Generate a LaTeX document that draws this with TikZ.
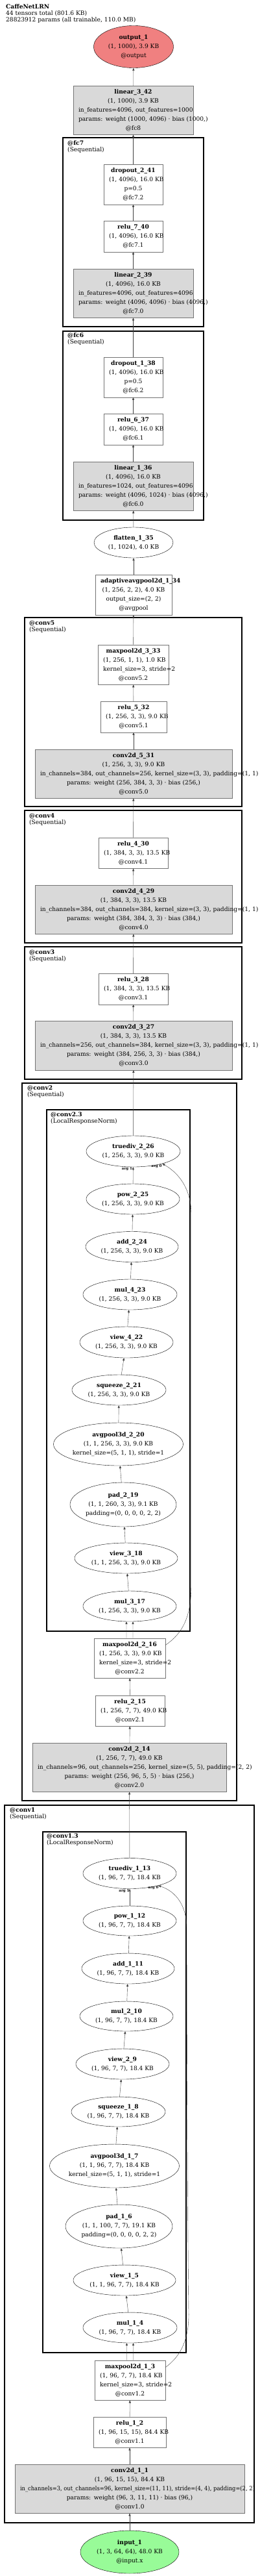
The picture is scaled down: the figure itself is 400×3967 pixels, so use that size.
\documentclass[tikz,border=0pt]{standalone}
\usepackage{fontspec}
\setmainfont{DejaVu Serif}
\usetikzlibrary{shapes.geometric}
\usetikzlibrary{arrows.meta}

\newcommand{\nodefont}{\fontsize{9.1pt}{14pt}\selectfont}
\newcommand{\headfont}{\fontsize{9.1pt}{10.3pt}\selectfont}
\definecolor{outred}{RGB}{240,128,128}
\definecolor{ingreen}{RGB}{152,251,152}

\begin{document}
\begin{tikzpicture}[x=1pt, y=-1pt]
\tikzset{
  wbox/.style={draw=black!55, fill=white, inner xsep=8pt, inner ysep=5.5pt, align=center, font=\nodefont},
  gbox/.style={wbox, fill=black!15},
  opnode/.style={ellipse, draw, inner sep=0pt, align=center, font=\nodefont, minimum width=144pt, minimum height=47pt},
  flow/.style={draw=black!75, -{Triangle[length=4pt, width=3.2pt]}},
  seq/.style={draw, line width=2.7pt},
  lrn/.style={draw, line width=2pt},
  grouptag/.style={anchor=north west, inner sep=0pt, align=left, font=\headfont},
  argtag/.style={inner sep=0pt, font=\fontsize{5.5pt}{6pt}\selectfont\bfseries},
}
\useasboundingbox (0,0) rectangle (400,3967);

\node[grouptag] (title) at (9,6) {\textbf{CaffeNetLRN}\\44 tensors total (801.6 KB)\\28823912 params (all trainable, 110.0 MB)};

\draw[seq] (97,212) rectangle (314,503);
\draw[seq] (97,510) rectangle (314,801);
\draw[seq] (38,951) rectangle (373,1242);
\draw[seq] (38,1248) rectangle (373,1452);
\draw[seq] (38,1458) rectangle (373,1662);
\draw[seq] (34,1668) rectangle (365,2773);
\draw[lrn] (72,1709) rectangle (293,2512);
\draw[seq] (7,2780) rectangle (392,3885);
\draw[lrn] (66,2821) rectangle (287,3623);

\node[grouptag] (fc7) at (104,216.5) {\textbf{@fc7}\\(Sequential)};
\node[grouptag] (fc6) at (104,512.5) {\textbf{@fc6}\\(Sequential)};
\node[grouptag] (conv5) at (45,955.5) {\textbf{@conv5}\\(Sequential)};
\node[grouptag] (conv4) at (45,1252.5) {\textbf{@conv4}\\(Sequential)};
\node[grouptag] (conv3) at (45,1462.5) {\textbf{@conv3}\\(Sequential)};
\node[grouptag] (conv2) at (42,1671.5) {\textbf{@conv2}\\(Sequential)};
\node[grouptag] (conv23) at (78,1712.5) {\textbf{@conv2.3}\\(LocalResponseNorm)};
\node[grouptag] (conv1) at (15,2783.5) {\textbf{@conv1}\\(Sequential)};
\node[grouptag] (conv13) at (72,2823.5) {\textbf{@conv1.3}\\(LocalResponseNorm)};

\node[opnode, fill=outred, minimum width=123pt, minimum height=65pt] (output1) at (206,72) {\textbf{output\_1}\\(1, 1000), 3.9 KB\\@output};
\node[gbox, text width=169pt] (linear342) at (205.5,169.5) {\mbox{\textbf{linear\_3\_42}}\\\mbox{(1, 1000), 3.9 KB}\\\mbox{in\_features=4096, out\_features=1000}\\\mbox{params: weight (1000, 4096) · bias (1000,)}\\\mbox{@fc8}};
\node[wbox, text width=75pt] (dropout241) at (205.5,284) {\mbox{\textbf{dropout\_2\_41}}\\\mbox{(1, 4096), 16.0 KB}\\\mbox{p=0.5}\\\mbox{@fc7.2}};
\node[wbox, text width=75pt] (relu740) at (205.5,364) {\mbox{\textbf{relu\_7\_40}}\\\mbox{(1, 4096), 16.0 KB}\\\mbox{@fc7.1}};
\node[gbox, text width=169pt] (linear239) at (205.5,451.5) {\mbox{\textbf{linear\_2\_39}}\\\mbox{(1, 4096), 16.0 KB}\\\mbox{in\_features=4096, out\_features=4096}\\\mbox{params: weight (4096, 4096) · bias (4096,)}\\\mbox{@fc7.0}};
\node[wbox, text width=75pt] (dropout138) at (205.5,581) {\mbox{\textbf{dropout\_1\_38}}\\\mbox{(1, 4096), 16.0 KB}\\\mbox{p=0.5}\\\mbox{@fc6.2}};
\node[wbox, text width=75pt] (relu637) at (205.5,661) {\mbox{\textbf{relu\_6\_37}}\\\mbox{(1, 4096), 16.0 KB}\\\mbox{@fc6.1}};
\node[gbox, text width=169pt] (linear136) at (205.5,748.5) {\mbox{\textbf{linear\_1\_36}}\\\mbox{(1, 4096), 16.0 KB}\\\mbox{in\_features=1024, out\_features=4096}\\\mbox{params: weight (4096, 1024) · bias (4096,)}\\\mbox{@fc6.0}};
\node[opnode, minimum width=122pt] (flatten135) at (206,835.5) {\textbf{flatten\_1\_35}\\(1, 1024), 4.0 KB};
\node[wbox, text width=102pt] (avgpool134) at (206,916) {\mbox{\textbf{adaptiveavgpool2d\_1\_34}}\\\mbox{(1, 256, 2, 2), 4.0 KB}\\\mbox{output\_size=(2, 2)}\\\mbox{@avgpool}};
\node[wbox, text width=93pt] (maxpool333) at (205.5,1023.5) {\mbox{\textbf{maxpool2d\_3\_33}}\\\mbox{(1, 256, 1, 1), 1.0 KB}\\\mbox{kernel\_size=3, stride=2}\\\mbox{@conv5.2}};
\node[wbox, text width=86pt] (relu532) at (206,1104) {\mbox{\textbf{relu\_5\_32}}\\\mbox{(1, 256, 3, 3), 9.0 KB}\\\mbox{@conv5.1}};
\node[gbox, text width=288pt] (conv531) at (206,1191.5) {\mbox{\textbf{conv2d\_5\_31}}\\\mbox{(1, 256, 3, 3), 9.0 KB}\\\mbox{in\_channels=384, out\_channels=256, kernel\_size=(3, 3), padding=(1, 1)}\\\mbox{params: weight (256, 384, 3, 3) · bias (256,)}\\\mbox{@conv5.0}};
\node[wbox, text width=91pt] (relu430) at (205.5,1313.5) {\mbox{\textbf{relu\_4\_30}}\\\mbox{(1, 384, 3, 3), 13.5 KB}\\\mbox{@conv4.1}};
\node[gbox, text width=288pt] (conv429) at (206,1400.5) {\mbox{\textbf{conv2d\_4\_29}}\\\mbox{(1, 384, 3, 3), 13.5 KB}\\\mbox{in\_channels=384, out\_channels=384, kernel\_size=(3, 3), padding=(1, 1)}\\\mbox{params: weight (384, 384, 3, 3) · bias (384,)}\\\mbox{@conv4.0}};
\node[wbox, text width=91pt] (relu328) at (205.5,1523) {\mbox{\textbf{relu\_3\_28}}\\\mbox{(1, 384, 3, 3), 13.5 KB}\\\mbox{@conv3.1}};
\node[gbox, text width=288pt] (conv327) at (206,1610) {\mbox{\textbf{conv2d\_3\_27}}\\\mbox{(1, 384, 3, 3), 13.5 KB}\\\mbox{in\_channels=256, out\_channels=384, kernel\_size=(3, 3), padding=(1, 1)}\\\mbox{params: weight (384, 256, 3, 3) · bias (384,)}\\\mbox{@conv3.0}};

\node[opnode, minimum width=145pt, minimum height=48pt] (truediv226) at (205.5,1773) {\textbf{truediv\_2\_26}\\(1, 256, 3, 3), 9.0 KB};
\node[opnode] (pow225) at (205,1846.5) {\textbf{pow\_2\_25}\\(1, 256, 3, 3), 9.0 KB};
\node[opnode, minimum width=143pt] (add224) at (203.5,1920) {\textbf{add\_2\_24}\\(1, 256, 3, 3), 9.0 KB};
\node[opnode, minimum width=145pt] (mul423) at (200.5,1993.5) {\textbf{mul\_4\_23}\\(1, 256, 3, 3), 9.0 KB};
\node[opnode, minimum height=48pt] (view422) at (195,2067) {\textbf{view\_4\_22}\\(1, 256, 3, 3), 9.0 KB};
\node[opnode, minimum width=145pt] (squeeze221) at (183.5,2140.5) {\textbf{squeeze\_2\_21}\\(1, 256, 3, 3), 9.0 KB};
\node[opnode, minimum width=193pt, minimum height=66pt] (avgpool220) at (182.5,2224) {\textbf{avgpool3d\_2\_20}\\(1, 1, 256, 3, 3), 9.0 KB\\kernel\_size=(5, 1, 1), stride=1};
\node[opnode, minimum width=164pt, minimum height=68pt] (pad219) at (190,2317) {\textbf{pad\_2\_19}\\(1, 1, 260, 3, 3), 9.1 KB\\padding=(0, 0, 0, 0, 2, 2)};
\node[opnode, minimum width=159pt] (view318) at (194.5,2399.5) {\textbf{view\_3\_18}\\(1, 1, 256, 3, 3), 9.0 KB};
\node[opnode] (mul317) at (200,2473.5) {\textbf{mul\_3\_17}\\(1, 256, 3, 3), 9.0 KB};
\node[wbox, text width=94pt] (maxpool216) at (200,2553.5) {\mbox{\textbf{maxpool2d\_2\_16}}\\\mbox{(1, 256, 3, 3), 9.0 KB}\\\mbox{kernel\_size=3, stride=2}\\\mbox{@conv2.2}};
\node[wbox, text width=91pt] (relu215) at (200.5,2634.5) {\mbox{\textbf{relu\_2\_15}}\\\mbox{(1, 256, 7, 7), 49.0 KB}\\\mbox{@conv2.1}};
\node[gbox, text width=283pt] (conv214) at (199.5,2721.5) {\mbox{\textbf{conv2d\_2\_14}}\\\mbox{(1, 256, 7, 7), 49.0 KB}\\\mbox{in\_channels=96, out\_channels=256, kernel\_size=(5, 5), padding=(2, 2)}\\\mbox{params: weight (256, 96, 5, 5) · bias (256,)}\\\mbox{@conv2.0}};

\node[opnode] (truediv113) at (200,2885) {\textbf{truediv\_1\_13}\\(1, 96, 7, 7), 18.4 KB};
\node[opnode, minimum height=46pt] (pow112) at (200,2958) {\textbf{pow\_1\_12}\\(1, 96, 7, 7), 18.4 KB};
\node[opnode, minimum width=143pt] (add111) at (197.5,3031.5) {\textbf{add\_1\_11}\\(1, 96, 7, 7), 18.4 KB};
\node[opnode, minimum height=46pt] (mul210) at (195,3105) {\textbf{mul\_2\_10}\\(1, 96, 7, 7), 18.4 KB};
\node[opnode] (view29) at (189,3178.5) {\textbf{view\_2\_9}\\(1, 96, 7, 7), 18.4 KB};
\node[opnode, minimum width=145pt, minimum height=46pt] (squeeze18) at (182.5,3252) {\textbf{squeeze\_1\_8}\\(1, 96, 7, 7), 18.4 KB};
\node[opnode, minimum width=193pt, minimum height=67pt] (avgpool17) at (176.5,3335.5) {\textbf{avgpool3d\_1\_7}\\(1, 1, 96, 7, 7), 18.4 KB\\kernel\_size=(5, 1, 1), stride=1};
\node[opnode, minimum width=165pt, minimum height=67pt] (pad16) at (183.5,3428.5) {\textbf{pad\_1\_6}\\(1, 1, 100, 7, 7), 19.1 KB\\padding=(0, 0, 0, 0, 2, 2)};
\node[opnode, minimum width=158pt] (view15) at (192,3511.5) {\textbf{view\_1\_5}\\(1, 1, 96, 7, 7), 18.4 KB};
\node[opnode, minimum width=145pt] (mul14) at (200.5,3584.5) {\textbf{mul\_1\_4}\\(1, 96, 7, 7), 18.4 KB};
\node[wbox, text width=93pt] (maxpool13) at (200.5,3665.5) {\mbox{\textbf{maxpool2d\_1\_3}}\\\mbox{(1, 96, 7, 7), 18.4 KB}\\\mbox{kernel\_size=3, stride=2}\\\mbox{@conv1.2}};
\node[wbox, text width=96pt] (relu12) at (200,3745.5) {\mbox{\textbf{relu\_1\_2}}\\\mbox{(1, 96, 15, 15), 84.4 KB}\\\mbox{@conv1.1}};
\node[gbox, text width=338pt] (conv11) at (200,3832.5) {\mbox{\textbf{conv2d\_1\_1}}\\\mbox{(1, 96, 15, 15), 84.4 KB}\\\resizebox{362pt}{\height}{in\_channels=3, out\_channels=96, kernel\_size=(11, 11), stride=(4, 4), padding=(2, 2)}\\\mbox{params: weight (96, 3, 11, 11) · bias (96,)}\\\mbox{@conv1.0}};
\node[opnode, fill=ingreen, minimum width=152pt, minimum height=66pt] (input1) at (200,3930) {\textbf{input\_1}\\(1, 3, 64, 64), 48.0 KB\\@input.x};

\node[argtag] (arg1b) at (196,1800) {arg 1};
\node[argtag] (arg0b) at (241.5,1796) {arg 0};
\node[argtag] (arg1a) at (191.5,2912) {arg 1};
\node[argtag] (arg0a) at (236.5,2907) {arg 0};

\draw[flow] (linear342) -- (output1);
\draw[flow] (dropout241) -- (linear342);
\draw[flow] (relu740) -- (dropout241);
\draw[flow] (linear239) -- (relu740);
\draw[flow] (dropout138) -- (linear239);
\draw[flow] (relu637) -- (dropout138);
\draw[flow] (linear136) -- (relu637);
\draw[flow] (flatten135) -- (linear136);
\draw[flow] (avgpool134) -- (flatten135);
\draw[flow] (maxpool333) -- (avgpool134);
\draw[flow] (relu532) -- (maxpool333);
\draw[flow] (conv531) -- (relu532);
\draw[flow] (relu430) -- (conv531);
\draw[flow] (conv429) -- (relu430);
\draw[flow] (relu328) -- (conv429);
\draw[flow] (conv327) -- (relu328);
\draw[flow] (truediv226) -- (conv327);
\draw[flow] (pow225) -- (truediv226);
\draw[flow] (add224) -- (pow225);
\draw[flow] (mul423) -- (add224);
\draw[flow] (view422) -- (mul423);
\draw[flow] (squeeze221) -- (view422);
\draw[flow] (avgpool220) -- (squeeze221);
\draw[flow] (pad219) -- (avgpool220);
\draw[flow] (view318) -- (pad219);
\draw[flow] (mul317) -- (view318);
\draw[flow] ([xshift=-5pt]maxpool216.north) -- (mul317.258);
\draw[flow] ([xshift=5pt]maxpool216.north) -- (mul317.282);
\draw[flow] (maxpool216.20) .. controls (282,2515) and (295,2490) .. (295,2440) -- (295,1870) .. controls (295,1830) and (275,1806) .. (truediv226.-23);
\draw[flow] (relu215) -- (maxpool216);
\draw[flow] (conv214) -- (relu215);
\draw[flow] (truediv113) -- (conv214);
\draw[flow] (pow112) -- (truediv113);
\draw[flow] (add111) -- (pow112);
\draw[flow] (mul210) -- (add111);
\draw[flow] (view29) -- (mul210);
\draw[flow] (squeeze18) -- (view29);
\draw[flow] (avgpool17) -- (squeeze18);
\draw[flow] (pad16) -- (avgpool17);
\draw[flow] (view15) -- (pad16);
\draw[flow] (mul14) -- (view15);
\draw[flow] ([xshift=-5pt]maxpool13.north) -- (mul14.258);
\draw[flow] ([xshift=5pt]maxpool13.north) -- (mul14.282);
\draw[flow] (maxpool13.20) .. controls (280,3628) and (292,3600) .. (291,3560) .. controls (289,3400) and (288,3100) .. (288,2970) .. controls (288,2935) and (272,2913) .. (truediv113.-23);
\draw[flow] (relu12) -- (maxpool13);
\draw[flow] (conv11) -- (relu12);
\draw[flow] (input1) -- (conv11);
\end{tikzpicture}
\end{document}
